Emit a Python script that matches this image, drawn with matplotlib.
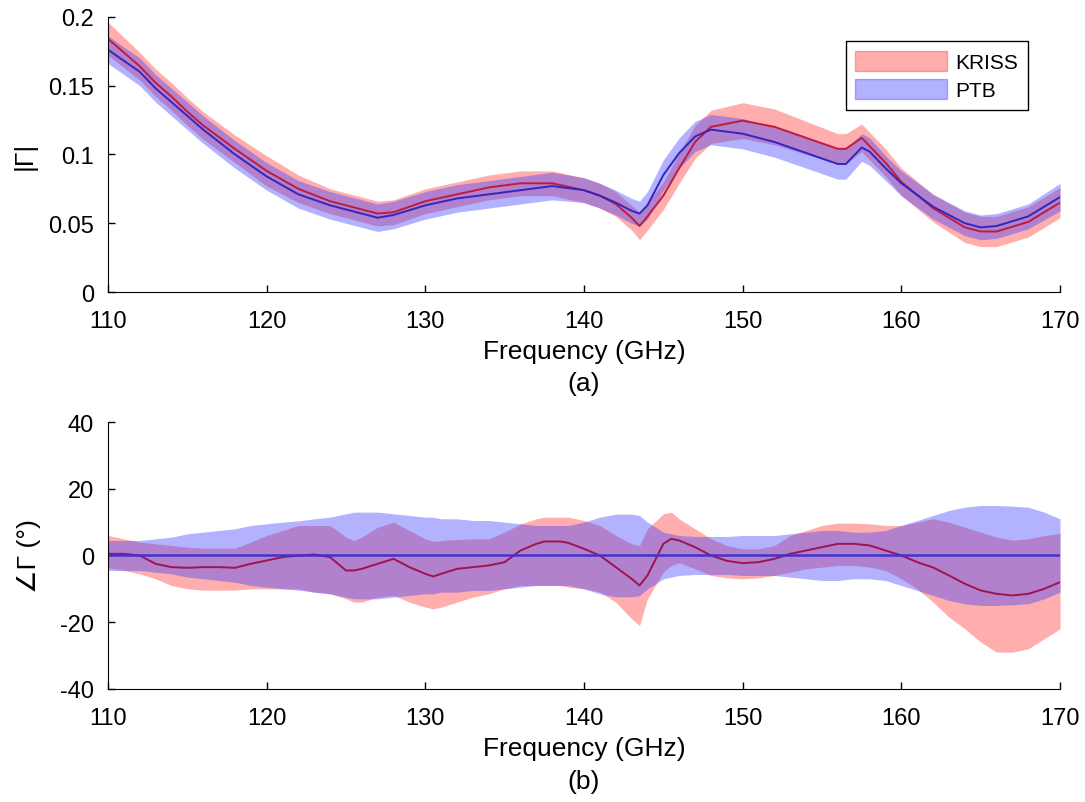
import numpy as np
import matplotlib
matplotlib.use('Agg')
import matplotlib.pyplot as plt
from matplotlib.patches import Patch

# ---- panel (a): |Gamma| ----
f_mag = [110, 111, 112, 113, 114, 115, 116, 118, 120, 122, 124, 126, 127, 128,
         130, 132, 134, 136, 138, 140, 141, 142, 143, 143.5, 144, 145, 146, 147,
         148, 150, 152, 154, 156, 156.5, 157.5, 158, 159, 160, 162, 164, 165,
         166, 168, 170]
kriss_mag = [.184, .174, .164, .152, .142, .131, .121, .104, .088, .075, .066,
             .060, .057, .058, .066, .071, .076, .079, .079, .074, .070, .064,
             .054, .048, .055, .070, .090, .109, .120, .1245, .120, .112, .104,
             .104, .112, .106, .094, .080, .061, .047, .044, .044, .051, .065]
ptb_mag = [.176, .168, .160, .148, .138, .128, .118, .100, .084, .071, .063,
           .057, .054, .056, .063, .068, .071, .074, .077, .074, .070, .065,
           .059, .057, .063, .085, .101, .113, .118, .115, .109, .101, .093,
           .093, .105, .102, .090, .079, .062, .050, .047, .048, .055, .069]
kriss_mag_hw = [.012, .011, .010, .010, .010, .010, .010, .010, .011, .010, .009,
                .009, .009, .009, .009, .009, .009, .009, .009, .009, .009, .009,
                .009, .010, .010, .010, .011, .012, .012, .013, .013, .012, .011,
                .011, .010, .010, .010, .010, .010, .011, .011, .011, .011, .011]
ptb_mag_hw = [.010, .010, .010, .010, .010, .010, .010, .010, .010, .010, .010,
              .010, .010, .010, .010, .010, .010, .010, .010, .009, .009, .009,
              .009, .009, .010, .011, .011, .011, .011, .011, .011, .011, .011,
              .011, .010, .010, .009, .009, .009, .009, .009, .009, .009, .010]

# ---- panel (b): phase ----
f_ph = [110, 111, 112, 113, 114, 115, 116, 117, 118, 119, 120, 121, 122, 123,
        124, 125, 125.5, 126, 127, 128, 129, 130, 130.5, 131, 132, 133, 134, 135,
        136, 137, 137.5, 138.5, 139, 140, 141, 142, 143, 143.5, 144, 145, 145.5,
        146, 147, 148, 149, 150, 151, 152, 153, 154, 155, 156, 157, 158, 159,
        160, 161, 162, 163, 164, 165, 166, 167, 168, 169, 170]
kriss_ph = [0.5, 0.5, 0, -2.5, -3.5, -3.7, -3.5, -3.5, -3.7, -2.5, -1.5, -0.5, 0, 0.3,
            -0.5, -4.5, -4.5, -4, -2.5, -1, -3.5, -5.5, -6.3, -5.5, -4, -3.5, -3, -2,
            1.5, 3.5, 4.2, 4.2, 3.8, 2, 0, -3.5, -7, -9, -6, 3.5, 5,
            4.5, 2.5, 0, -1.6, -2.3, -2, -1, 0.5, 1.5, 2.5, 3.5, 3.5, 3, 1.5,
            0, -2, -3.6, -6, -8.5, -10.5, -11.5, -12, -11.5, -10, -8]
kriss_ph_lo = [-3.7, -4.5, -5.5, -7, -9, -10, -10.4, -10.4, -10.4, -10, -10, -10, -10, -11,
               -11.5, -13, -14, -14, -12.5, -12, -14, -15.5, -16, -15.5, -14, -12.5, -11.5, -10,
               -9, -9, -9, -9, -9.5, -10, -11, -14, -19, -21, -13, -5, -3,
               -2.2, -4, -6, -6.7, -7, -6.7, -6, -5, -4, -3.5, -3, -3, -3.5, -4.5,
               -7, -10, -14, -18.5, -22, -26, -29, -29, -28, -25, -22]
kriss_ph_hi = [6, 5, 4, 3.5, 3, 2.5, 2.2, 2.2, 2.2, 4, 6, 7.5, 9, 9,
               9, 5.5, 4.5, 5.5, 8.5, 10, 7.5, 5, 4.2, 4.5, 4.8, 5, 5, 7,
               9.5, 11, 11.5, 11.5, 11.5, 10.5, 9, 6, 3.5, 3, 8, 12.5, 13,
               11, 8, 5, 3, 2, 2, 3, 6, 7.5, 9, 9.7, 9.7, 9.5, 9,
               9, 10, 11, 10, 8.5, 7, 5.5, 4.6, 5, 6, 6.6]
ptb_ph = [0] * len(f_ph)
ptb_ph_hw = [4.5, 4.5, 4.5, 5, 5.5, 6.5, 7, 7.5, 8, 9, 9.5, 10, 10.4, 11,
             11.5, 12.5, 13, 13, 13, 12.5, 12, 11.5, 11.5, 11, 11, 10.5, 10.5, 10,
             9.5, 9, 9, 9, 9, 10, 11.5, 12.4, 12.4, 12, 10, 7, 6.5,
             6, 5.7, 5.7, 5.7, 6, 6, 6, 6.5, 7, 7.5, 7.5, 7, 7, 7.5,
             9, 10.5, 12, 13.5, 14.5, 15, 15, 14.8, 14.5, 13, 11]

red_fill = (1.0, 0.2, 0.2)
blue_fill = (0.25, 0.25, 1.0)
plt.rcParams['font.family'] = ['Liberation Sans', 'DejaVu Sans']
plt.rcParams['font.size'] = 17
plt.rcParams['axes.unicode_minus'] = False

fig = plt.figure(figsize=(10.85, 8.03), dpi=100)
ax1 = fig.add_axes([0.0995, 0.635, 0.8775, 0.343])
ax2 = fig.add_axes([0.0995, 0.141, 0.8775, 0.332])

km, pm = np.array(kriss_mag), np.array(ptb_mag)
khw, phw = np.array(kriss_mag_hw), np.array(ptb_mag_hw)
ax1.fill_between(f_mag, km - khw, km + khw, color=red_fill, alpha=0.4, lw=0)
ax1.fill_between(f_mag, pm - phw, pm + phw, color=blue_fill, alpha=0.4, lw=0)
ax1.plot(f_mag, kriss_mag, color=(0.75, 0.1, 0.25), lw=1.4)
ax1.plot(f_mag, ptb_mag, color=(0.2, 0.15, 0.75), lw=1.4)
ax1.set_xlim(110, 170)
ax1.set_ylim(0, 0.2)
ax1.set_yticks([0, 0.05, 0.1, 0.15, 0.2])
ax1.set_yticklabels(['0', '0.05', '0.1', '0.15', '0.2'])
ax1.set_ylabel('|Γ|', fontsize=19, labelpad=8)
ax1.set_xlabel('Frequency (GHz)\n(a)', fontsize=19, linespacing=1.4)
ax1.legend(handles=[Patch(color=red_fill, alpha=0.4, label='KRISS'),
                    Patch(color=blue_fill, alpha=0.4, label='PTB')],
           loc='upper right', bbox_to_anchor=(0.977, 0.948), fancybox=False,
           edgecolor='black', framealpha=1, handlelength=4.4, handleheight=1.1,
           fontsize=15, borderpad=0.45, labelspacing=0.35, handletextpad=0.4)

ph0 = np.array(ptb_ph)
phw2 = np.array(ptb_ph_hw)
ax2.fill_between(f_ph, kriss_ph_lo, kriss_ph_hi, color=red_fill, alpha=0.4, lw=0)
ax2.fill_between(f_ph, ph0 - phw2, ph0 + phw2, color=blue_fill, alpha=0.4, lw=0)
ax2.plot(f_ph, kriss_ph, color=(0.62, 0.08, 0.3), lw=1.4)
ax2.plot(f_ph, ptb_ph, color=(0.25, 0.2, 0.8), lw=1.8)
ax2.set_xlim(110, 170)
ax2.set_ylim(-40, 40)
ax2.set_yticks([-40, -20, 0, 20, 40])
ax2.set_ylabel('∠Γ (°)', fontsize=19, labelpad=14)
ax2.set_xlabel('Frequency (GHz)\n(b)', fontsize=19, linespacing=1.5)

for ax in (ax1, ax2):
    ax.set_xticks([110, 120, 130, 140, 150, 160, 170])
    ax.spines['top'].set_visible(False)
    ax.spines['right'].set_visible(False)
    ax.tick_params(direction='in', length=5, width=1)
    ax.tick_params(axis='x', pad=13)
    ax.tick_params(axis='y', pad=10)
    ax.xaxis.labelpad = 5

fig.savefig('out.png', dpi=100)
